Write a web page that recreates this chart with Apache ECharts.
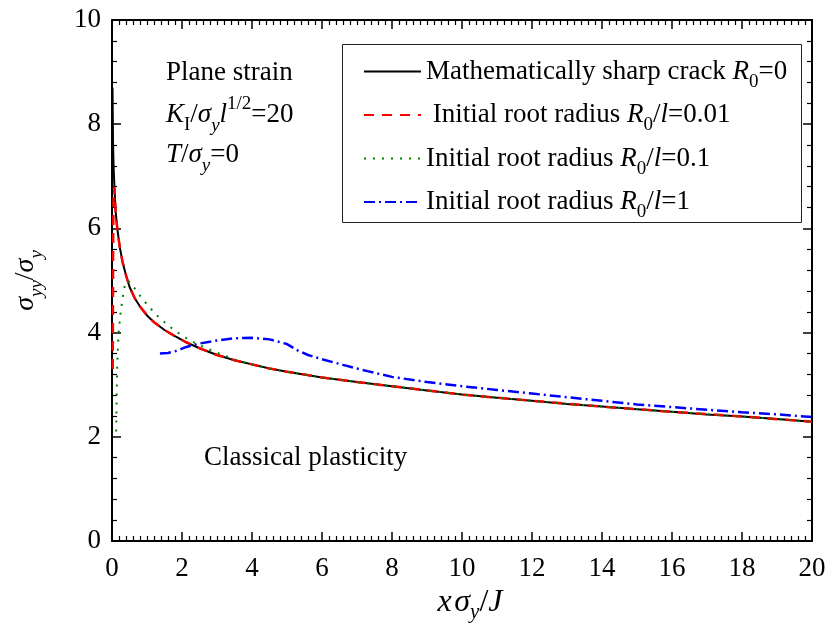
<!DOCTYPE html>
<html>
<head>
<meta charset="utf-8">
<script src="https://cdn.jsdelivr.net/npm/echarts@6/dist/echarts.min.js"></script>
<style>
  html, body { margin: 0; padding: 0; background: #fff; }
  #chart { width: 830px; height: 641px; }
</style>
</head>
<body>
<div id="chart"></div>
<script>
// Normal stress ahead of the crack tip, sigma_yy / sigma_y, versus normalised distance x*sigma_y / J
const xTicks = [0, 2, 4, 6, 8, 10, 12, 14, 16, 18, 20];
const yTicks = [0, 2, 4, 6, 8, 10];

// Mathematically sharp crack, R0 = 0
const sharpCrack = [
  [0.015, 8.7], [0.03, 7.6], [0.05, 7.1], [0.07, 6.8], [0.1, 6.35], [0.15, 6.0],
  [0.22, 5.65], [0.3, 5.36], [0.4, 5.1], [0.5, 4.88], [0.65, 4.66], [0.8, 4.5],
  [1.0, 4.33], [1.2, 4.2], [1.5, 4.05], [1.8, 3.93], [2.1, 3.82], [2.5, 3.7],
  [3.0, 3.57], [3.5, 3.47], [4.0, 3.39], [4.5, 3.31], [5.0, 3.25], [6.0, 3.14],
  [7.0, 3.05], [8.0, 2.97], [9.0, 2.89], [10, 2.81], [11, 2.75], [12, 2.69],
  [13, 2.63], [14, 2.58], [15, 2.53], [16, 2.48], [17, 2.43], [18, 2.39],
  [19, 2.34], [20, 2.29]
];

// Initial root radius R0/l = 0.01
const rootRadius001 = [
  [0.02, 3.3], [0.025, 4.2], [0.03, 5.2], [0.035, 6.0], [0.045, 6.6], [0.06, 6.8],
  [0.08, 6.6], [0.1, 6.35], [0.15, 6.0], [0.22, 5.65], [0.3, 5.36], [0.4, 5.1],
  [0.5, 4.88], [0.65, 4.66], [0.8, 4.5], [1.0, 4.33], [1.2, 4.2], [1.5, 4.05],
  [1.8, 3.93], [2.1, 3.82], [2.5, 3.7], [3.0, 3.57], [3.5, 3.47], [4.0, 3.39],
  [4.5, 3.31], [5.0, 3.25], [6.0, 3.14], [7.0, 3.05], [8.0, 2.97], [9.0, 2.89],
  [10, 2.81], [12, 2.69], [14, 2.58], [16, 2.48], [18, 2.39], [20, 2.29]
];

// Initial root radius R0/l = 0.1
const rootRadius01 = [
  [0.12, 2.1], [0.13, 2.6], [0.14, 3.1], [0.16, 3.6], [0.19, 4.0], [0.24, 4.35],
  [0.3, 4.65], [0.37, 4.92], [0.45, 5.0], [0.56, 4.93], [0.68, 4.82], [0.8, 4.71],
  [1.0, 4.54], [1.3, 4.32], [1.6, 4.14], [1.9, 3.99], [2.2, 3.86], [2.5, 3.76],
  [2.8, 3.67], [3.2, 3.56], [3.6, 3.46], [4.0, 3.39], [4.5, 3.31], [5.0, 3.25],
  [6.0, 3.14], [7.0, 3.05], [8.0, 2.97], [9.0, 2.89], [10, 2.81], [12, 2.69],
  [14, 2.58], [16, 2.48], [18, 2.39], [20, 2.29]
];

// Initial root radius R0/l = 1
const rootRadius1 = [
  [1.37, 3.6], [1.6, 3.61], [1.85, 3.65], [2.1, 3.72], [2.5, 3.79], [3.0, 3.85],
  [3.5, 3.89], [4.0, 3.9], [4.5, 3.87], [5.0, 3.78], [5.3, 3.66], [5.6, 3.57],
  [6.0, 3.49], [6.6, 3.38], [7.3, 3.26], [8.0, 3.15], [9.0, 3.05], [10, 2.97],
  [11, 2.9], [12, 2.83], [13, 2.76], [14, 2.69], [15, 2.62], [16, 2.57],
  [17, 2.52], [18, 2.47], [19, 2.43], [20, 2.38]
];

const seriesNames = ['sharp', 'r001', 'r01', 'r1'];
const legendLabels = {
  sharp: '{n|Mathematically sharp crack }{i|R}{s|0}{n|=0}',
  r001: '{n| Initial root radius }{i|R}{s|0}{n|/}{i|l}{n|=0.01}',
  r01: '{n|Initial root radius }{i|R}{s|0}{n|/}{i|l}{n|=0.1}',
  r1: '{n|Initial root radius }{i|R}{s|0}{n|/}{i|l}{n|=1}'
};

const FONT = 'Liberation Serif';
const FS = 27;
const SUB = 19;

// Rich text styles: upright, italic, subscript (upright / italic), superscript, axis-title variants
const rich = {
  n: { fontFamily: FONT, fontSize: FS, lineHeight: 40, color: '#000' },
  i: { fontFamily: FONT, fontSize: FS, fontStyle: 'italic', lineHeight: 40, color: '#000' },
  s: { fontFamily: FONT, fontSize: SUB, lineHeight: 16, verticalAlign: 'bottom', color: '#000' },
  si: { fontFamily: FONT, fontSize: SUB, fontStyle: 'italic', lineHeight: 16, verticalAlign: 'bottom', color: '#000' },
  sup: { fontFamily: FONT, fontSize: SUB, lineHeight: 20, verticalAlign: 'top', color: '#000' },
  tn: { fontFamily: FONT, fontSize: 28, lineHeight: 40, color: '#000' },
  ti: { fontFamily: FONT, fontSize: 28, fontStyle: 'italic', lineHeight: 40, color: '#000' },
  tsi: { fontFamily: FONT, fontSize: 19, fontStyle: 'italic', lineHeight: 14, verticalAlign: 'bottom', color: '#000' },
  xn: { fontFamily: FONT, fontSize: 32, lineHeight: 40, color: '#000' },
  xi: { fontFamily: FONT, fontSize: 32, fontStyle: 'italic', lineHeight: 40, color: '#000' },
  xsi: { fontFamily: FONT, fontSize: 21, fontStyle: 'italic', lineHeight: 12, verticalAlign: 'bottom', color: '#000' }
};

function axisBase(pos, showLabel, splitMinor, isX) {
  return {
    type: 'value',
    position: pos,
    min: 0,
    max: isX ? 20 : 10,
    interval: 2,
    axisLine: { show: true, onZero: false, lineStyle: { color: '#000', width: 2 } },
    axisTick: { show: true, inside: true, length: 9, lineStyle: { color: '#000', width: 1.5 } },
    minorTick: { show: true, splitNumber: splitMinor, length: 5, lineStyle: { color: '#000', width: 1.2 } },
    splitLine: { show: false },
    minorSplitLine: { show: false },
    axisLabel: {
      show: showLabel,
      margin: isX ? 14 : 11,
      fontFamily: FONT,
      fontSize: FS,
      color: '#000',
      formatter: function (v) {
        const list = isX ? xTicks : yTicks;
        return list.indexOf(v) >= 0 ? String(v) : '';
      }
    }
  };
}

const chart = echarts.init(document.getElementById('chart'), null, { renderer: 'canvas' });

const xMain = axisBase('bottom', true, 10, true);
xMain.name = '{xi|x\u200A\u03C3}{xsi|y}{xn|/}{xi|J}';
xMain.nameLocation = 'middle';
xMain.nameGap = 40;
xMain.nameTextStyle = { rich: rich, padding: [0, 0, 0, 16] };
const xTop = axisBase('top', false, 10, true);

const yMain = axisBase('left', true, 5, false);
yMain.name = '{ti|\u03C3}{tsi|yy}{tn|/}{ti|\u03C3}{tsi|y}';
yMain.nameLocation = 'middle';
yMain.nameGap = 66;
yMain.nameTextStyle = { rich: rich };
const yRight = axisBase('right', false, 5, false);

function lineSeries(name, data, color, type, width) {
  return {
    name: name,
    type: 'line',
    data: data,
    xAxisIndex: 0,
    yAxisIndex: 0,
    symbol: 'none',
    showSymbol: false,
    animation: false,
    lineStyle: { color: color, type: type, width: width },
    itemStyle: { color: color }
  };
}

chart.setOption({
  animation: false,
  backgroundColor: '#fff',
  grid: { left: 112, right: 18, top: 20, bottom: 100 },
  xAxis: [xMain, xTop],
  yAxis: [yMain, yRight],
  legend: {
    orient: 'vertical',
    left: 363,
    top: 58,
    padding: 0,
    itemGap: 10,
    itemWidth: 57,
    itemHeight: 14,
    selectedMode: false,
    itemStyle: { opacity: 0, color: 'transparent', borderWidth: 0 },
    data: seriesNames,
    formatter: function (name) { return legendLabels[name]; },
    textStyle: { rich: rich }
  },
  series: [
    lineSeries('sharp', sharpCrack, '#000000', 'solid', 2),
    lineSeries('r001', rootRadius001, '#ff0000', [10, 8], 2.5),
    lineSeries('r01', rootRadius01, '#008000', [2, 7], 2),
    lineSeries('r1', rootRadius1, '#0000ff', [11, 4, 2, 4], 2.5)
  ],
  graphic: [
    {
      type: 'rect',
      shape: { x: 342.5, y: 44.5, width: 459, height: 178 },
      style: { fill: 'none', stroke: '#222', lineWidth: 1 },
      silent: true
    },
    {
      type: 'text', x: 166, y: 73,
      style: { text: '{n|Plane strain}', rich: rich, align: 'left', verticalAlign: 'middle' }
    },
    {
      type: 'text', x: 166, y: 115,
      style: { text: '{i|K}{s|I}{n|/}{i|\u03C3}{si|y}{i|l}{sup|1/2}{n|=20}', rich: rich, align: 'left', verticalAlign: 'middle' }
    },
    {
      type: 'text', x: 166, y: 155,
      style: { text: '{i|T}{n|/}{i|\u03C3}{si|y}{n|=0}', rich: rich, align: 'left', verticalAlign: 'middle' }
    },
    {
      type: 'text', x: 204, y: 458,
      style: { text: '{n|Classical plasticity}', rich: rich, align: 'left', verticalAlign: 'middle' }
    }
  ]
});
</script>
</body>
</html>
